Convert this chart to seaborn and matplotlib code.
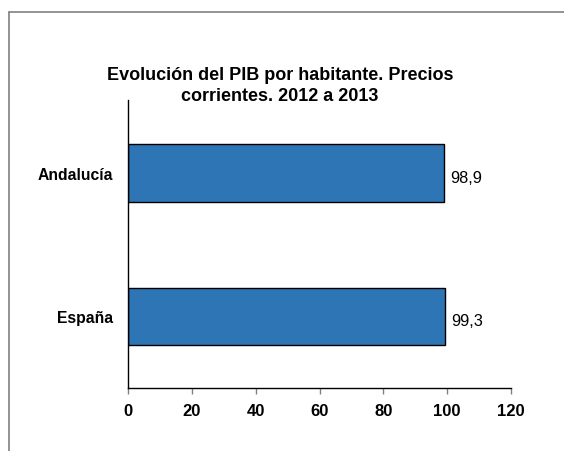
import matplotlib
matplotlib.use("Agg")
import matplotlib.pyplot as plt
import seaborn as sns
import pandas as pd
from matplotlib.lines import Line2D

categories = ["Andalucía", "España"]
values = [98.9, 99.3]
value_labels = ["98,9", "99,3"]
xticks = [0, 20, 40, 60, 80, 100, 120]

sns.set_theme(style="white")
plt.rcParams['font.family'] = ['Liberation Sans', 'DejaVu Sans']
plt.rcParams['text.color'] = 'black'
plt.rcParams['xtick.color'] = 'black'
plt.rcParams['ytick.color'] = 'black'

W, H = 564, 452
fig = plt.figure(figsize=(W / 100, H / 100), dpi=100)
fig.patch.set_facecolor("white")

left, right, top, bottom = 128, 511, 101, 389
ax = fig.add_axes([left / W, 1 - bottom / H, (right - left) / W, (bottom - top) / H])

df = pd.DataFrame({"cat": categories, "val": values})
sns.barplot(data=df, y="cat", x="val", orient="h", color="#2E75B6",
            saturation=1, width=0.4, edgecolor="black", linewidth=1.0, ax=ax)

ax.set_xlim(0, 120)
ax.set_ylim(1.5, -0.51)
ax.set_xticks(xticks)
ax.set_xticklabels([str(t) for t in xticks], fontsize=12, fontweight="bold", color="black")
ax.set_ylabel("")
ax.set_xlabel("")
ax.tick_params(axis="x", which="major", length=4, width=1, color="#808080",
               direction="out", pad=7, bottom=True, labelcolor="black")
ax.tick_params(axis="y", length=0, pad=11, labelcolor="black")
for lab in ax.get_yticklabels():
    lab.set_fontsize(11.3)
    lab.set_fontweight("bold")

for s in ["top", "right"]:
    ax.spines[s].set_visible(False)
for s in ["left", "bottom"]:
    ax.spines[s].set_visible(True)
    ax.spines[s].set_color("black")
    ax.spines[s].set_linewidth(1.0)

for i, (v, lab) in enumerate(zip(values, value_labels)):
    ax.text(v + 2.0, i + 0.03, lab, va="center", ha="left", fontsize=11.8, color="black")

fig.text(280 / W, 1 - 86 / H, "Evolución del PIB por habitante. Precios\ncorrientes. 2012 a 2013",
         ha="center", va="center", fontsize=13, fontweight="bold", linespacing=1.3, color="black")

fig.add_artist(Line2D([8.5 / W, 1.0], [1 - 12.5 / H, 1 - 12.5 / H], color="#808080", lw=1.2,
                      transform=fig.transFigure))
fig.add_artist(Line2D([8.5 / W, 8.5 / W], [0, 1 - 12.5 / H], color="#808080", lw=1.2,
                      transform=fig.transFigure))

fig.savefig("out.png", dpi=100, facecolor="white")
